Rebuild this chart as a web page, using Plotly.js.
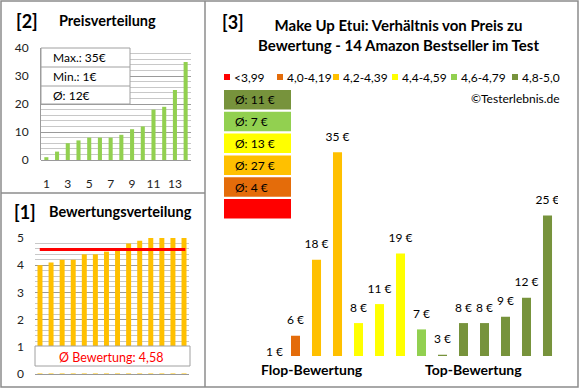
<!DOCTYPE html>
<html><head><meta charset="utf-8">
<script src="https://cdn.plot.ly/plotly-3.0.1.min.js"></script>
<style>html,body{margin:0;padding:0;background:#fff}#chart{width:580px;height:390px}</style>
</head><body><div id="chart"></div>
<script>
// ---- data ----
const priceRank = [1,2,3,4,5,6,7,8,9,10,11,12,13,14];
const pricesSorted = [1,3,6,7,8,8,8,9,11,12,18,19,25,35];
const priceTickVals = [1,3,5,7,9,11,13];
const priceTickText = ['1','3','5','7','9','11','13'];
const ratingsSorted = [4.0,4.1,4.2,4.2,4.4,4.4,4.5,4.6,4.8,4.9,5.0,5.0,5.0,5.0];
const productIndex = [0,1,2,3,4,5,6,7,8,9,10,11,12,13];
const productPrices = [1,6,18,35,8,11,19,7,3,8,8,9,12,25];
const productRatings = [4.0,4.1,4.2,4.2,4.4,4.4,4.5,4.6,4.8,4.9,5.0,5.0,5.0,5.0];
const ratingClasses = ['<3,99','4,0-4,19','4,2-4,39','4,4-4,59','4,6-4,79','4,8-5,0'];
const classUpper = [4.0,4.2,4.4,4.6,4.8,99];
const classColors = ['#FF0000','#E46C0A','#FFC000','#FFFF00','#92D050','#77933C'];
const flopTopLabels = ['Flop-Bewertung','Top-Bewertung'];

// ---- helpers ----
const W=580,H=390;
const fx=p=>p/W, fy=p=>1-p/H;
const FONT='Lato, "Open Sans", sans-serif';
const classOf = r => classUpper.findIndex(u => r < u - 1e-9);
const prodClass = productRatings.map(classOf);
const barColors = prodClass.map(c=>classColors[c]);
const euro = v => v + ' €';

const maxP = Math.max(...pricesSorted), minP = Math.min(...pricesSorted);
const avgP = Math.round(pricesSorted.reduce((a,b)=>a+b,0)/pricesSorted.length);
const avgR = ratingsSorted.reduce((a,b)=>a+b,0)/ratingsSorted.length;
const avgRStr = avgR.toFixed(2).replace('.',',');

const traces = [
  {type:'bar', x:priceRank, y:pricesSorted, xaxis:'x', yaxis:'y', width:0.38,
   marker:{color:'#92D050'}, hoverinfo:'skip'},
  {type:'bar', x:priceRank, y:ratingsSorted, xaxis:'x2', yaxis:'y2', width:0.45,
   marker:{color:'#FFC000'}, hoverinfo:'skip'},
  {type:'scatter', mode:'lines', x:[priceRank[0]-0.02, priceRank[priceRank.length-1]+0.12], y:[avgR,avgR], xaxis:'x2', yaxis:'y2',
   line:{color:'#FF0000', width:3}, hoverinfo:'skip'},
  {type:'bar', x:productIndex, y:productPrices, xaxis:'x3', yaxis:'y3', width:0.43,
   marker:{color:barColors}, hoverinfo:'skip'},
  {type:'scatter', mode:'markers+text', x:productIndex, y:productPrices, xaxis:'x3', yaxis:'y3',
   text:productPrices.map(euro), textposition:'top center', cliponaxis:true,
   marker:{size:12, opacity:0}, textfont:{family:FONT, size:12, color:'#000'}, hoverinfo:'skip'}
];

const shapes = [];
const annotations = [];
const line = (x0,y0,x1,y1,color,w)=>shapes.push({type:'line',xref:'paper',yref:'paper',x0:fx(x0),y0:fy(y0),x1:fx(x1),y1:fy(y1),line:{color:color,width:w},layer:'above'});
const rect = (x0,y0,x1,y1,fill,lc,lw)=>shapes.push({type:'rect',xref:'paper',yref:'paper',x0:fx(x0),y0:fy(y0),x1:fx(x1),y1:fy(y1),fillcolor:fill,line:{color:lc||fill,width:lw||0},layer:'above'});
const text = (t,x,y,opt)=>annotations.push(Object.assign({text:t,xref:'paper',yref:'paper',x:fx(x),y:fy(y),showarrow:false,xanchor:'center',yanchor:'middle',
  font:{family:FONT,size:12,color:'#000'}},opt||{}));

// frame
rect(1,1,578,387,'rgba(0,0,0,0)','#8c8c8c',1.5);
line(205,1,205,387,'#8c8c8c',1.5);
line(1,193,205,193,'#8c8c8c',1.5);

// panel 2
text('<b>[2]</b>',27,21,{font:{family:FONT,size:18,color:'#000'}});
text('<b>Preisverteilung</b>',57,20,{xanchor:'left',font:{family:FONT,size:14.5,color:'#000'}});
rect(41,48,130,104,'#fff','#a0a0a0',1);
line(41,67,130,67,'#a0a0a0',1);
line(41,86,130,86,'#a0a0a0',1);
text('Max.: '+maxP+'€',51,57.5,{xanchor:'left'});
text('Min.: '+minP+'€',51,76.5,{xanchor:'left'});
text('Ø: '+avgP+'€',51,95,{xanchor:'left'});

// panel 1
text('<b>[1]</b>',25,212,{font:{family:FONT,size:18,color:'#000'}});
text('<b>Bewertungsverteilung</b>',47,211,{xanchor:'left',font:{family:FONT,size:14.5,color:'#000'}});
rect(35,346,190,373.4,'#fff');
rect(35,346,190,366,'#fff','#a0a0a0',1);
text('Ø Bewertung: '+avgRStr,111,357,{font:{family:FONT,size:12.5,color:'#FF0000'}});

// panel 3
text('<b>[3]</b>',233,22,{font:{family:FONT,size:18,color:'#000'}});
text('<b>Make Up Etui: Verhältnis von Preis zu<br>Bewertung - 14 Amazon Bestseller im Test</b>',398,35,{font:{family:FONT,size:15,color:'#000'}});
const legX=[224,277,333,392,451,512];
ratingClasses.forEach((c,i)=>{
  rect(legX[i],74,legX[i]+6,80,classColors[i]);
  text(c.replace('<','&lt;'),legX[i]+8,77.5,{xanchor:'left'});
});
text('©Testerlebnis.de',562,98,{xanchor:'right'});
// average boxes, highest class first
for(let k=0;k<6;k++){
  const c = 5-k;
  const top = 90 + k*21.8;
  rect(224,top,291,top+19.5,classColors[c]);
  const vals = productPrices.filter((p,i)=>prodClass[i]===c);
  if(vals.length){
    const a = Math.round(vals.reduce((s,v)=>s+v,0)/vals.length);
    text('Ø: '+a+' €',233,top+10,{xanchor:'left',font:{family:FONT,size:12,color:'#000'}});
  }
}
text('<b>'+flopTopLabels[0]+'</b>',312,369,{font:{family:FONT,size:14,color:'#000'}});
text('<b>'+flopTopLabels[1]+'</b>',473,369,{font:{family:FONT,size:14,color:'#000'}});

const tickFont = {family:FONT,size:12,color:'#222'};
const layout = {
  width:W,height:H,margin:{l:0,r:0,t:0,b:0},paper_bgcolor:'#fff',plot_bgcolor:'rgba(0,0,0,0)',
  showlegend:false,hovermode:false,
  xaxis:{domain:[fx(41),fx(191)],range:[0.5,14.5],anchor:'y',tickvals:priceTickVals,ticktext:priceTickText,
    showgrid:false,zeroline:false,ticks:'',ticklabelstandoff:15,tickfont:tickFont,fixedrange:true},
  yaxis:{domain:[fy(160),fy(48)],range:[0,40],anchor:'x',dtick:10,gridcolor:'#9a9a9a',gridwidth:1,
    minor:{dtick:2,showgrid:true,gridcolor:'#c8c8c8',gridwidth:1},
    zeroline:true,zerolinecolor:'#9a9a9a',showline:true,linecolor:'#9a9a9a',ticks:'',ticklabelstandoff:9,tickfont:tickFont,fixedrange:true},
  xaxis2:{domain:[fx(35),fx(189)],range:[0.55,14.45],anchor:'y2',showticklabels:false,showgrid:false,zeroline:false,ticks:'',fixedrange:true},
  yaxis2:{domain:[fy(374),fy(238)],range:[0,5],anchor:'x2',dtick:1,gridcolor:'#9a9a9a',gridwidth:1,
    minor:{dtick:0.2,showgrid:true,gridcolor:'#c8c8c8',gridwidth:1},
    zeroline:true,zerolinecolor:'#9a9a9a',ticks:'',ticklabelstandoff:10,tickfont:tickFont,fixedrange:true},
  xaxis3:{domain:[fx(264),fx(558)],range:[-0.5,13.5],anchor:'y3',visible:false,fixedrange:true},
  yaxis3:{domain:[fy(356),fy(100)],range:[2.8,2.8+256/6.33],anchor:'x3',visible:false,fixedrange:true},
  shapes:shapes, annotations:annotations
};
Plotly.newPlot('chart',traces,layout,{staticPlot:true,displayModeBar:false});
</script></body></html>
